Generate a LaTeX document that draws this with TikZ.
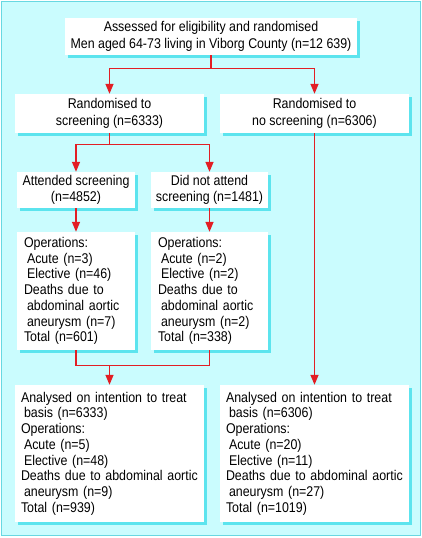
\documentclass[tikz,border=0pt]{standalone}
\usepackage{fontspec}
\setmainfont{Liberation Sans}[FakeStretch=0.88]
\usepackage{tikz}
\usetikzlibrary{arrows.meta,positioning,shadows}

\definecolor{bgcyan}{RGB}{202,252,254}
\definecolor{shcyan}{RGB}{92,228,238}
\definecolor{frcyan}{RGB}{104,216,226}
\definecolor{flowred}{RGB}{226,30,36}
\newcommand{\ind}{\hspace*{3pt}}
\newcommand{\toptext}{\fontsize{14.1}{16.7}\selectfont}
\newcommand{\midtext}{\fontsize{14.1}{17}\selectfont}
\newcommand{\listtext}{\fontsize{14.1}{15.7}\selectfont}

\begin{document}
\begin{tikzpicture}[x=1pt, y=-1pt, >={Triangle[length=10pt, width=8pt]},
    box/.style={fill=white, inner ysep=0pt, inner xsep=2pt,
        drop shadow={shadow xshift=3pt, shadow yshift=-3pt, fill=shcyan, opacity=1}},
    headbox/.style={box, align=center, font=\midtext},
    listbox/.style={box, align=left, font=\listtext, inner xsep=6pt},
    flow/.style={draw=flowred, line width=1.4pt},
    flowarrow/.style={flow, ->}]
    % Background and frame
    \useasboundingbox (0,0) rectangle (422,538);
    \fill[white] (0,0) rectangle (422,538);
    \draw[fill=bgcyan, draw=frcyan, line width=1pt] (1.5,1.5) rectangle (420.5,535.5);
    % Nodes (trial stages)
    \node[headbox, font=\toptext, minimum width=292pt, minimum height=37pt] (assess) at (211,36.5)
        {Assessed for eligibility and randomised\\Men aged 64-73 living in Viborg County (n=12~639)};
    \node[headbox, minimum width=189pt, minimum height=39pt] (screen) at (109.5,113.5)
        {Randomised to\\screening (n=6333)};
    \node[headbox, minimum width=189pt, minimum height=39pt] (noscreen) at (314.5,113.5)
        {Randomised to\\no screening (n=6306)};
    \node[headbox, font=\listtext, minimum width=118pt, minimum height=36pt] (attend) at (76,190)
        {Attended screening\\(n=4852)};
    \node[headbox, font=\listtext, minimum width=117pt, minimum height=36pt] (noattend) at (209.5,190)
        {Did not attend\\screening (n=1481)};
    % Outcome lists
    \node[listbox, text width=104pt, inner xsep=7pt, minimum height=118pt] (opattend) at (76,291)
        {Operations:\\\ind Acute (n=3)\\\ind Elective (n=46)\\Deaths due to\\\ind abdominal aortic\\\ind aneurysm (n=7)\\Total (n=601)};
    \node[listbox, text width=103pt, inner xsep=7pt, minimum height=118pt] (opnoattend) at (209.5,291)
        {Operations:\\\ind Acute (n=2)\\\ind Elective (n=2)\\Deaths due to\\\ind abdominal aortic\\\ind aneurysm (n=2)\\Total (n=338)};
    \node[listbox, text width=177pt, minimum height=137pt] (itt) at (109.5,453.5)
        {Analysed on intention to treat\\\ind basis (n=6333)\\Operations:\\\ind Acute (n=5)\\\ind Elective (n=48)\\Deaths due to abdominal aortic\\\ind aneurysm (n=9)\\Total (n=939)};
    \node[listbox, text width=177pt, minimum height=137pt] (ittno) at (314.5,453.5)
        {Analysed on intention to treat\\\ind basis (n=6306)\\Operations:\\\ind Acute (n=20)\\\ind Elective (n=11)\\Deaths due to abdominal aortic\\\ind aneurysm (n=27)\\Total (n=1019)};
    % Arrows
    \draw[flowarrow] (assess.south) -- ++(0,13) -| (screen.north);
    \draw[flowarrow] (assess.south) -- ++(0,13) -| (noscreen.north);
    \draw[flowarrow] (screen.south) -- ++(0,11) -| (attend.north);
    \draw[flowarrow] (screen.south) -- ++(0,11) -| (noattend.north);
    \draw[flowarrow] (attend) -- (opattend);
    \draw[flowarrow] (noattend) -- (opnoattend);
    \draw[flow] (opattend.south) -- ++(0,15) coordinate (merge) -| (opnoattend.south);
    \draw[flowarrow] (merge -| itt.north) -- (itt.north);
    \draw[flowarrow] (noscreen) -- (ittno);
\end{tikzpicture}
\end{document}
